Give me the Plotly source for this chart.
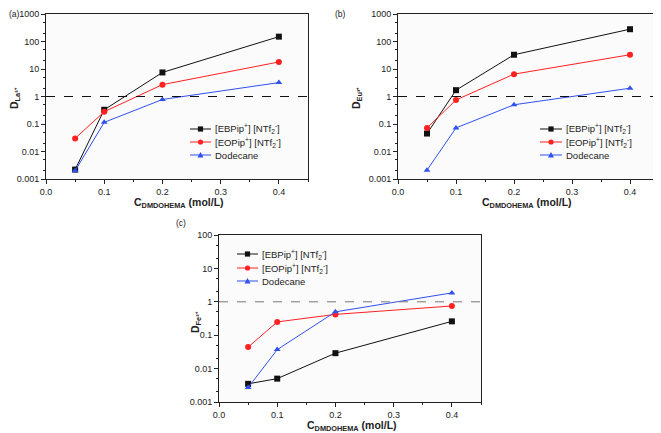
import plotly.graph_objects as go

x_conc = [0.05, 0.1, 0.2, 0.4]
series_names = ["[EBPip<sup>+</sup>] [NTf<sub>2</sub><sup>-</sup>]",
                "[EOPip<sup>+</sup>] [NTf<sub>2</sub><sup>-</sup>]",
                "Dodecane"]
x_tick_vals = [0, 0.1, 0.2, 0.3, 0.4]
x_tick_text = ["0.0", "0.1", "0.2", "0.3", "0.4"]
# Panel (a) La3+
a_ebpip = [0.0022, 0.33, 7.5, 150]
a_eopip = [0.03, 0.28, 2.7, 18]
a_dodec = [0.002, 0.115, 0.78, 3.2]
# Panel (b) Eu3+
b_ebpip = [0.045, 1.7, 33, 280]
b_eopip = [0.072, 0.75, 6.5, 33]
b_dodec = [0.0021, 0.072, 0.5, 2.0]
# Panel (c) Fe3+
c_ebpip = [0.0035, 0.005, 0.029, 0.26]
c_eopip = [0.044, 0.25, 0.42, 0.75]
c_dodec = [0.0027, 0.037, 0.5, 1.85]

colors = ["#111111", "#ff2020", "#3050f0"]
symbols = ["square", "circle", "triangle-up"]

# the page body keeps its default 8px margin: map window pixels to figure paper coords
OFF = 8
FW, FH = 653, 425
def px_x(p): return (p - OFF) / FW
def px_y(p): return 1 - (p - OFF) / FH

panels = [
    dict(name="a", data=[a_ebpip, a_eopip, a_dodec], dom_x=(46, 308), dom_y=(14, 179),
         yr=(-3, 3), ytitle="D<sub>La³⁺</sub>", leg_x=(190, 211), leg_rows=(129, 142, 155),
         label_pos=(8, 8), dash_color="#111111", xt=(179, 203), yt=(15, 98)),
    dict(name="b", data=[b_ebpip, b_eopip, b_dodec], dom_x=(398, 659), dom_y=(14, 179),
         yr=(-3, 3), ytitle="D<sub>Eu³⁺</sub>", leg_x=(540, 562), leg_rows=(129, 142, 155),
         label_pos=(334, 8), dash_color="#111111", xt=(527, 203), yt=(357, 98)),
    dict(name="c", data=[c_ebpip, c_eopip, c_dodec], dom_x=(219, 481), dom_y=(235, 402),
         yr=(-3, 2), ytitle="D<sub>Fe³⁺</sub>", leg_x=(237, 258), leg_rows=(254, 268, 281),
         label_pos=(175, 217), dash_color="#777777", xt=(352, 426), yt=(196, 322)),
]

fig = go.Figure()
layout = dict(width=FW, height=FH, margin=dict(l=0, r=0, t=0, b=0),
              paper_bgcolor="white", plot_bgcolor="#fbfbfb", showlegend=False,
              font=dict(family="Liberation Sans, Arial", size=9, color="#222"))
annotations = []
shapes = []
for i, p in enumerate(panels):
    k = "" if i == 0 else str(i + 1)
    xa, ya = "x" + k, "y" + k
    for j in range(3):
        fig.add_trace(go.Scatter(
            x=x_conc, y=p["data"][j], mode="lines+markers", name=series_names[j],
            line=dict(color=colors[j], width=1),
            marker=dict(symbol=symbols[j], size=6, color=colors[j]),
            xaxis=xa, yaxis=ya))
    layout["xaxis" + k] = dict(
        domain=[px_x(p["dom_x"][0]), min(1, px_x(p["dom_x"][1]))], anchor=ya, automargin=False,
        range=[0, 0.45], tickvals=x_tick_vals, ticktext=x_tick_text,
        ticks="outside", ticklen=4, tickcolor="#222", showgrid=False, zeroline=False,
        showline=True, linecolor="#222", linewidth=1, mirror=True,
        minor=dict(tickvals=[0.05, 0.15, 0.25, 0.35, 0.45], ticks="outside", ticklen=2, tickcolor="#222"))
    yr = p["yr"]
    tv = [10 ** e for e in range(yr[0], yr[1] + 1)]
    tt = [("%g" % v) if v < 1 else str(int(v)) for v in tv]
    layout["yaxis" + k] = dict(
        domain=[px_y(p["dom_y"][1]), px_y(p["dom_y"][0])], anchor=xa, automargin=False,
        type="log", range=[yr[0], yr[1]], tickvals=tv, ticktext=tt,
        ticks="outside", ticklen=4, tickcolor="#222", showgrid=False, zeroline=False,
        showline=True, linecolor="#222", linewidth=1, mirror=True,
        minor=dict(ticks="outside", ticklen=2, tickcolor="#222",
                   tickvals=[m * 10 ** e for e in range(yr[0], yr[1]) for m in (2, 5)]))
    # axis titles
    annotations.append(dict(text="<b>C<sub>DMDOHEMA</sub> (mol/L)</b>", x=px_x(p["xt"][0]),
                            y=px_y(p["xt"][1]), xref="paper", yref="paper",
                            xanchor="center", yanchor="middle", showarrow=False,
                            font=dict(size=10.5, color="#222")))
    annotations.append(dict(text="<b>" + p["ytitle"] + "</b>", x=px_x(p["yt"][0]),
                            y=px_y(p["yt"][1]), xref="paper", yref="paper", textangle=-90,
                            xanchor="center", yanchor="middle", showarrow=False, borderpad=0,
                            font=dict(size=10.5, color="#222")))
    shapes.append(dict(type="line", xref=xa + " domain", yref=ya, x0=0, x1=1, y0=1, y1=1,
                       line=dict(color=p["dash_color"], width=1, dash="dash")))
    # manual legend (compact row spacing like the reference)
    lx0, lx1 = p["leg_x"]
    mx = (lx0 + lx1) / 2
    for j, ry in enumerate(p["leg_rows"]):
        shapes.append(dict(type="line", xref="paper", yref="paper",
                           x0=px_x(lx0), x1=px_x(lx1), y0=px_y(ry), y1=px_y(ry),
                           line=dict(color=colors[j], width=1)))
        r = 2.6
        if j == 0:
            shapes.append(dict(type="rect", xref="paper", yref="paper",
                               x0=px_x(mx - r), x1=px_x(mx + r), y0=px_y(ry + r), y1=px_y(ry - r),
                               fillcolor=colors[j], line=dict(width=0)))
        elif j == 1:
            shapes.append(dict(type="circle", xref="paper", yref="paper",
                               x0=px_x(mx - r), x1=px_x(mx + r), y0=px_y(ry + r), y1=px_y(ry - r),
                               fillcolor=colors[j], line=dict(width=0)))
        else:
            path = "M %f %f L %f %f L %f %f Z" % (
                px_x(mx - 3), px_y(ry + 2.5), px_x(mx + 3), px_y(ry + 2.5), px_x(mx), px_y(ry - 3))
            shapes.append(dict(type="path", xref="paper", yref="paper", path=path,
                               fillcolor=colors[j], line=dict(width=0)))
        annotations.append(dict(text=series_names[j], x=px_x(lx1 + 2), y=px_y(ry),
                                xref="paper", yref="paper", xanchor="left", yanchor="middle",
                                showarrow=False, font=dict(size=9.5, color="#222")))
    annotations.append(dict(text="(" + p["name"] + ")", x=px_x(p["label_pos"][0]),
                            y=px_y(p["label_pos"][1]), xref="paper", yref="paper",
                            xanchor="left", yanchor="top", showarrow=False, borderpad=0,
                            font=dict(size=8.5)))
layout["annotations"] = annotations
layout["shapes"] = shapes
fig.update_layout(**layout)
fig.write_html("out.html")
